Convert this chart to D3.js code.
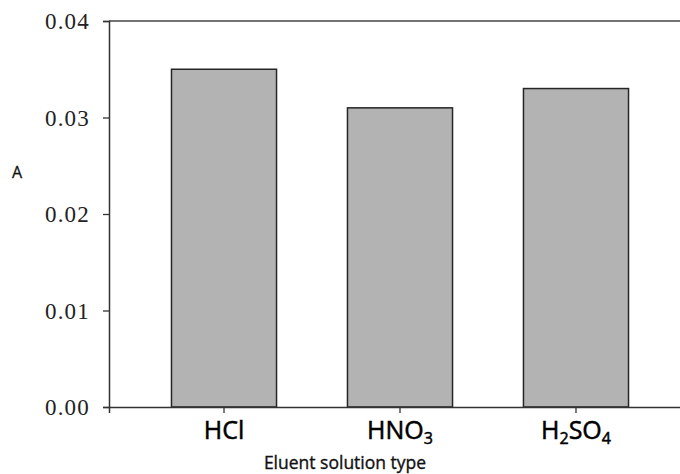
<!DOCTYPE html>
<html><head><meta charset="utf-8">
<script src="https://cdn.jsdelivr.net/npm/d3@7"></script>
<style>body{margin:0;background:#fff;}svg{display:block;}</style>
</head><body>
<script>
const categories = ["HCl", "HNO3", "H2SO4"];
const labelParts = [[["HCl",false]], [["HNO",false],["3",true]], [["H",false],["2",true],["SO",false],["4",true]]];
const values = [0.035, 0.031, 0.033];
const yTicks = [0, 0.01, 0.02, 0.03, 0.04];

const W = 680, H = 474;
const svg = d3.select("body").append("svg").attr("width", W).attr("height", H);
const x0 = 109, yTop = 21, yBot = 407;
const x = d3.scaleBand().domain(categories).range([x0, 691]).paddingInner(0.403).paddingOuter(0.355);
const y = d3.scaleLinear().domain([0, 0.04]).range([yBot, yTop]);

// bars
svg.selectAll("rect.bar").data(values).enter().append("rect")
  .attr("x", (d,i) => x(categories[i])).attr("width", x.bandwidth())
  .attr("y", d => y(d)).attr("height", d => yBot - y(d))
  .attr("fill", "#b3b3b3").attr("stroke", "#262626").attr("stroke-width", 1.5);

// top frame line
svg.append("line").attr("x1", x0).attr("x2", W).attr("y1", yTop).attr("y2", yTop)
  .attr("stroke", "#444").attr("stroke-width", 1.5);

// y axis
const ya = svg.append("g").attr("transform", `translate(${x0},0)`)
  .call(d3.axisLeft(y).tickValues(yTicks).tickFormat(d3.format(".2f")).tickSizeOuter(0).tickSize(6).tickPadding(13));
ya.select(".domain").attr("stroke", "#333").attr("stroke-width", 1.5);
ya.selectAll(".tick line").attr("stroke", "#333").attr("stroke-width", 1.3);
ya.selectAll(".tick text").attr("font-family", "Liberation Serif, Times New Roman, serif")
  .attr("font-size", 23).attr("fill", "#222").attr("letter-spacing", 1.2).attr("dy", "0.34em");

// x axis
const xa = svg.append("g").attr("transform", `translate(0,${yBot})`)
  .call(d3.axisBottom(x).tickSizeOuter(0).tickSize(6).tickFormat(""));
xa.select(".domain").attr("stroke", "#333").attr("stroke-width", 1.5);
xa.selectAll(".tick line").attr("stroke", "#333").attr("stroke-width", 1.3);

// category labels with subscripts
categories.forEach((c, i) => {
  const t = svg.append("text").attr("x", x(c) + x.bandwidth()/2).attr("y", 439)
    .attr("text-anchor", "middle").attr("font-family", "Open Sans, sans-serif")
    .attr("font-size", 25).attr("fill", "#000").attr("stroke", "#000").attr("stroke-width", 0.5);
  labelParts[i].forEach(([s, sub], j) => {
    t.append("tspan").text(s).attr("font-size", sub ? 16 : 25).attr("dy", sub ? 5 : (j > 0 ? -5 : 0));
  });
});

// axis titles
svg.append("text").attr("x", 345).attr("y", 469).attr("text-anchor", "middle")
  .attr("font-family", "Open Sans, sans-serif").attr("font-size", 17.5).attr("fill", "#111")
  .attr("stroke", "#111").attr("stroke-width", 0.35)
  .text("Eluent solution type");
svg.append("text").attr("x", 17).attr("y", 178).attr("text-anchor", "middle")
  .attr("font-family", "Open Sans, sans-serif").attr("font-size", 16).attr("fill", "#111")
  .attr("stroke", "#111").attr("stroke-width", 0.3)
  .text("A");
</script>
</body></html>
